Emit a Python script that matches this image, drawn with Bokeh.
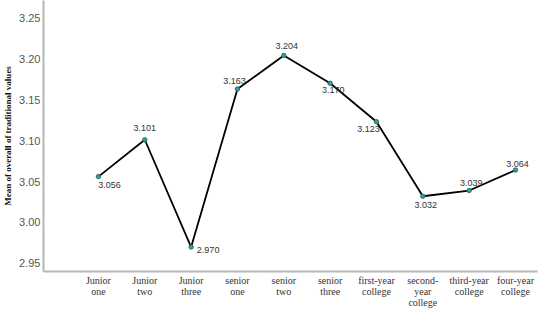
from bokeh.plotting import figure
from bokeh.models import ColumnDataSource, LabelSet, FixedTicker, Range1d
from bokeh.core.properties import value
from bokeh.embed import file_html
from bokeh.resources import INLINE

categories = ["Junior\none", "Junior\ntwo", "Junior\nthree", "senior\none", "senior\ntwo",
              "senior\nthree", "first-year\ncollege", "second-\nyear\ncollege",
              "third-year\ncollege", "four-year\ncollege"]
means = [3.056, 3.101, 2.970, 3.163, 3.204, 3.170, 3.123, 3.032, 3.039, 3.064]
value_labels = ["3.056", "3.101", "2.970", "3.163", "3.204", "3.170", "3.123", "3.032", "3.039", "3.064"]
y_ticks = [2.95, 3.00, 3.05, 3.10, 3.15, 3.20, 3.25]

# label placement (screen px offsets)
label_dx = [11, 0, 17, -3, 3, 3, -8, 3, 2, 2]
label_dy = [-8, 12, -3, 8, 9, -7, -7, -9, 8, 6]

xs = list(range(len(categories)))
src = ColumnDataSource(dict(x=xs, y=means, t=value_labels, dx=label_dx, dy=label_dy))

p = figure(width=542, height=310, output_backend="svg", toolbar_location=None,
           x_range=Range1d(-1.186, 9.475), y_range=Range1d(2.9401, 3.2711),
           min_border_left=30, min_border_right=5, min_border_top=0, min_border_bottom=30)
p.outline_line_color = None
p.xgrid.grid_line_color = None
p.ygrid.grid_line_color = None

p.line("x", "y", source=src, line_color="black", line_width=1.8)
p.scatter("x", "y", source=src, size=4.5, fill_color="#2aa198", line_color="#2f5f5a", line_width=0.8)

labels = LabelSet(x="x", y="y", text="t", x_offset="dx", y_offset="dy", source=src,
                  text_align="center", text_baseline="middle", text_font_size="9px",
                  text_font=value("Liberation Sans"), text_color="#333333")
p.add_layout(labels)

p.xaxis.ticker = FixedTicker(ticks=xs)
p.xaxis.major_label_overrides = {i: c for i, c in enumerate(categories)}
p.xaxis.major_label_text_font = "Liberation Serif"
p.xaxis.major_label_text_font_size = "10px"
p.xaxis.major_label_text_color = "#333333"
p.xaxis.major_label_text_line_height = 1.0
p.xaxis.major_label_standoff = 3

p.yaxis.ticker = FixedTicker(ticks=y_ticks)
p.yaxis.major_label_overrides = {t: f"{t:.2f}" for t in y_ticks}
p.yaxis.major_label_text_font = "Liberation Sans"
p.yaxis.major_label_text_font_size = "11px"
p.yaxis.major_label_text_color = "#555555"
p.yaxis.major_label_standoff = 3
p.yaxis.axis_label = "Mean of overall of traditional values"
p.yaxis.axis_label_text_font = "Liberation Serif"
p.yaxis.axis_label_text_font_style = "bold"
p.yaxis.axis_label_text_font_size = "9px"
p.yaxis.axis_label_text_color = "#111111"
p.yaxis.axis_label_standoff = 3

for ax in (p.xaxis, p.yaxis):
    ax.axis_line_color = "#b5b5b5"
    ax.axis_line_width = 2
    ax.major_tick_line_color = None
    ax.minor_tick_line_color = None
    ax.major_tick_out = 0
    ax.major_tick_in = 0

open("out.html", "w").write(file_html(p, INLINE))
